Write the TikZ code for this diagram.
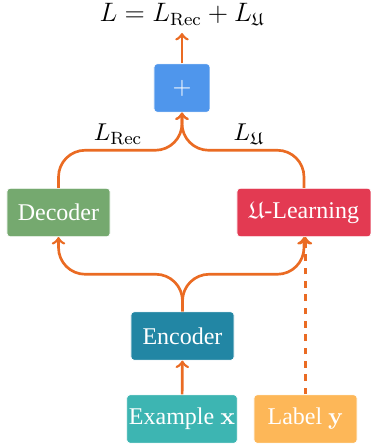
\documentclass[tikz,border=0pt]{standalone}
\usepackage{amssymb}
\usepackage[no-math]{fontspec}
\setmainfont{Liberation Serif}
\usepackage{tikz}
\usetikzlibrary{calc}

\definecolor{plusblue}{HTML}{4F96EC}
\definecolor{decgreen}{HTML}{75A96F}
\definecolor{ulred}{HTML}{E33A52}
\definecolor{encteal}{HTML}{2286A4}
\definecolor{exturq}{HTML}{3DB5B2}
\definecolor{labyellow}{HTML}{FDB758}
\definecolor{arrorange}{HTML}{EA6B23}

\tikzset{
  block/.style={rectangle,rounded corners=1.5pt,draw=white,line width=0.3pt,text=white,minimum height=21.8pt,inner sep=1pt},
  flow/.style={-to,draw=arrorange,line width=1.2pt},
  curvedflow/.style={flow,rounded corners=12pt},
}

\begin{document}
\begin{tikzpicture}[x=0.45pt,y=-0.45pt,font=\fontsize{10.8}{13}\selectfont]
  \useasboundingbox (0,0) rectangle (371,448);
  \node[font=\fontsize{12}{14}\selectfont] (loss) at (182,14) {$L = L_{\mathrm{Rec}} + L_{\mathfrak{U}}$};
  \node[block,fill=plusblue,minimum width=25.2pt] (plus) at (182,88) {$+$};
  \node[block,fill=decgreen,minimum width=46.4pt] (dec) at (58.5,212.5) {Decoder};
  \node[block,fill=ulred,minimum width=60.3pt] (ul) at (304,212.5) {$\mathfrak{U}$-Learning};
  \node[block,fill=encteal,minimum width=46.4pt] (enc) at (182.5,336) {Encoder};
  \node[block,fill=exturq,minimum width=49.5pt] (ex) at (182,419) {Example $\mathbf{x}$};
  \node[block,fill=labyellow,minimum width=46.4pt] (lab) at (305.5,419) {Label $\mathbf{y}$};

  \draw[flow] (ex) -- (enc);
  \draw[curvedflow] (enc.north) |- ($(enc.north)!0.5!(dec.south)$) -| (dec.south);
  \draw[curvedflow] (enc.north) |- ($(enc.north)!0.5!(ul.south)$) -| (ul.south);
  \draw[flow,dashed] (lab.north) -- (lab.north |- ul.south);
  \draw[curvedflow] (dec.north) |- ($(dec.north)!0.5!(plus.south)$) -| (plus.south);
  \draw[curvedflow] (ul.north) |- ($(ul.north)!0.5!(plus.south)$) -| (plus.south);
  \node[font=\fontsize{11.2}{13}\selectfont] (lrec) at (118,134) {$L_{\mathrm{Rec}}$};
  \node[font=\fontsize{11.2}{13}\selectfont] (lul) at (249,134) {$L_{\mathfrak{U}}$};
  \draw[flow] (plus) -- (loss);
\end{tikzpicture}
\end{document}
